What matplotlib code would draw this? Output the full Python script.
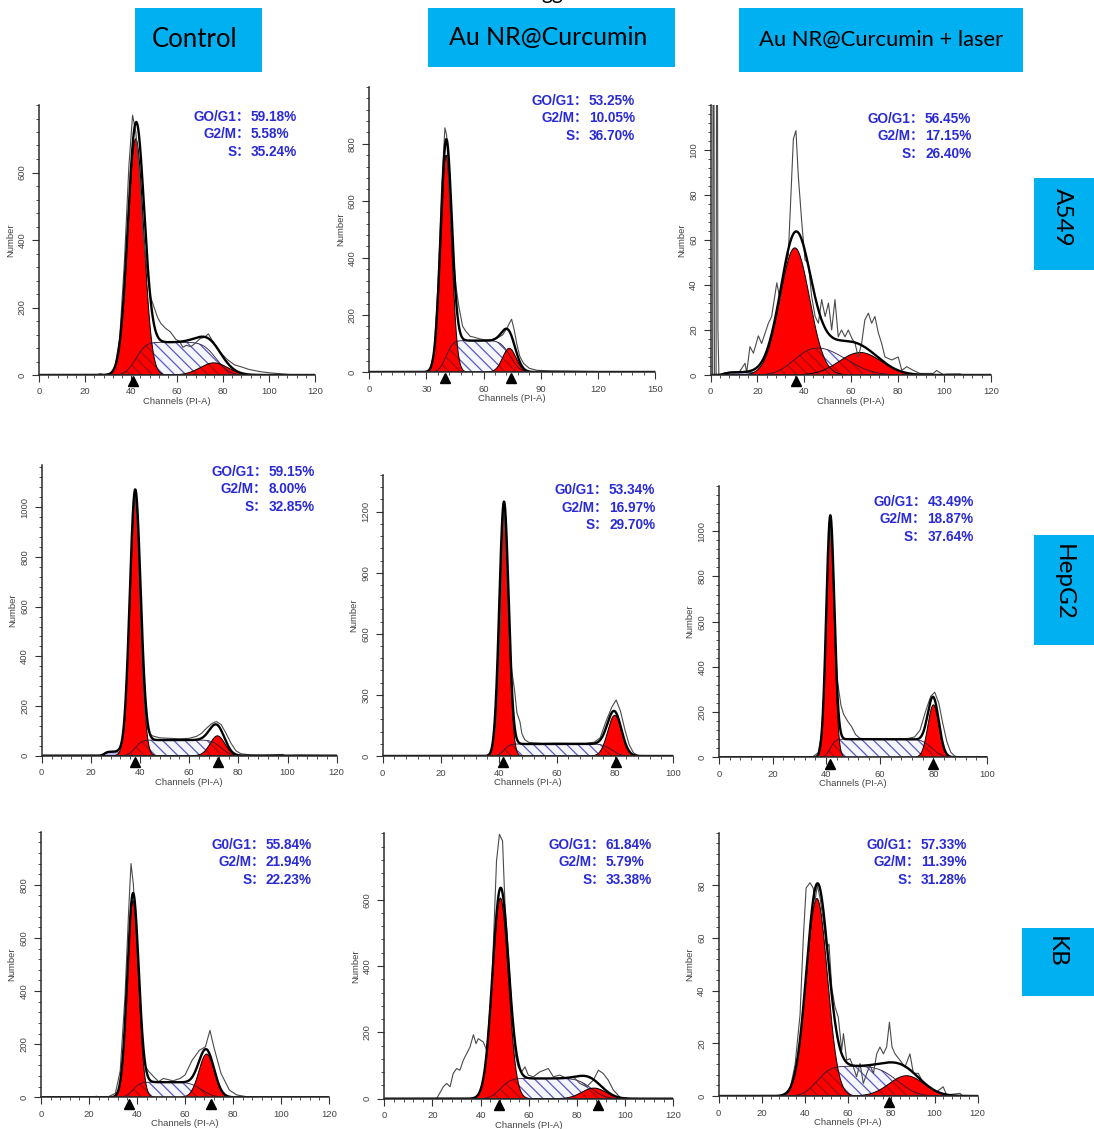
import math
import numpy as np
import matplotlib
matplotlib.use("Agg")
import matplotlib.pyplot as plt
from matplotlib.patches import Rectangle
from matplotlib.ticker import FixedLocator, AutoMinorLocator
from matplotlib.transforms import ScaledTranslation

# ---------------------------------------------------------------- labels
conditions = ["Control", "Au NR@Curcumin", "Au NR@Curcumin + laser"]
cell_lines = ["A549", "HepG2", "KB"]

# panel order: A549 (ctrl, AuNR, laser), HepG2 (...), KB (...)
g1_names = ["GO/G1", "GO/G1", "GO/G1", "GO/G1", "G0/G1", "G0/G1", "G0/G1", "GO/G1", "G0/G1"]
g1_pct = ["59.18%", "53.25%", "56.45%", "59.15%", "53.34%", "43.49%", "55.84%", "61.84%", "57.33%"]
g2m_pct = ["5.58%", "10.05%", "17.15%", "8.00%", "16.97%", "18.87%", "21.94%", "5.79%", "11.39%"]
s_pct = ["35.24%", "36.70%", "26.40%", "32.85%", "29.70%", "37.64%", "22.23%", "33.38%", "31.28%"]

# ---------------------------------------------------------------- axis ranges
x_max = [120, 150, 120, 120, 100, 100, 120, 120, 120]
x_step = [20, 30, 20, 20, 20, 20, 20, 20, 20]
y_max = [800, 1000, 120, 1170, 1380, 1200, 1000, 800, 100]
y_step = [200, 200, 20, 200, 300, 200, 200, 200, 20]
y_last_tick = [600, 800, 100, 1000, 1200, 1000, 800, 600, 80]

# ---------------------------------------------------------------- fitted model components
g1_mean = [42.0, 40.3, 36.0, 38.0, 41.8, 41.5, 38.3, 48.2, 45.5]
g1_height = [700, 760, 56.5, 1040, 1220, 1030, 740, 605, 75]
g1_sd = [3.5, 2.9, 6.3, 2.2, 1.6, 1.5, 2.35, 3.3, 4.9]

g2_mean = [76.0, 73.5, 64.0, 71.5, 80.0, 80.0, 69.0, 87.0, 87.0]
g2_height = [36, 83, 10, 80, 200, 232, 163, 32, 7.7]
g2_sd = [6.0, 3.5, 9.0, 3.0, 2.4, 2.05, 3.2, 5.0, 8.0]

s_level = [97, 110, 14, 63, 59, 80, 57, 61, 11.3]
s_end = [77.0, 74.0, 58.0, 73.0, 79.0, 79.5, 67.0, 86.0, 83.0]
s_end_sd = [4.5, 4.0, 9.0, 3.0, 2.5, 3.0, 4.0, 4.5, 7.0]

# debris component: (level, start, end, edge sd) or None
debris = [None, None, (1.2, 6.0, 28.0, 1.5), (16, 25.5, 32.5, 1.0),
          None, None, None, None, None]

# peak-position markers on the channel axis
markers = [[40.6], [39.9, 74.4], [36.5], [38.0, 71.9], [41.6, 80.5],
           [41.4, 79.7], [36.8, 70.7], [47.8, 88.6], [78.9]]

# ---------------------------------------------------------------- measured histograms
a549_ctrl_ch = [0, 25, 26.5, 28, 31, 33, 35, 37, 39, 40.6, 42, 43.5, 45, 47, 48.5, 50, 51.5, 53,
                55, 57, 59.5, 61, 62.5, 64, 66, 68, 70, 72, 73.6, 75, 77, 79, 82, 85, 88, 91,
                96, 101, 106, 111, 120]
a549_ctrl_n = [0, 0, 4, 1, 4, 25, 110, 330, 620, 770, 720, 600, 430, 300, 230, 200, 170, 152,
               138, 128, 105, 100, 82, 88, 84, 95, 108, 112, 122, 105, 85, 65, 45, 30, 24, 17,
               10, 6, 3, 0, 0]

a549_aunr_ch = [0, 30, 32, 34, 36, 38, 39.7, 40.6, 41.5, 43, 44.5, 45.5, 47, 49, 51, 53, 55,
                58, 61, 64, 66, 68, 70, 72, 73.5, 74.7, 76, 77.4, 79, 81, 84, 88, 95, 105, 115,
                125, 130, 150]
a549_aunr_n = [0, 0, 8, 70, 300, 650, 856, 830, 700, 500, 380, 300, 230, 160, 140, 125, 122,
               116, 112, 112, 118, 122, 130, 150, 170, 185, 150, 100, 55, 30, 13, 6, 4, 3, 2,
               1, 0, 0]

a549_laser_ch = [0, 0.8, 1.0, 1.4, 1.6, 2.3, 2.5, 2.9, 3.1, 3.5, 6, 9, 12, 13.3, 14.7, 15.4,
                 16.8, 18.3, 20.4, 21.8, 24.7, 26.1, 28.3, 29.7, 31.1, 33.2, 35.4, 36.5, 37.5,
                 39, 40.4, 41.8, 43.2, 44.7, 46.1, 47.5, 49, 50.4, 51.8, 53.2, 54.6, 56, 57.5,
                 58.9, 60.4, 61.8, 63.2, 64.6, 66, 67.5, 68.9, 70.3, 71.8, 73.2, 74.6, 77.5,
                 80.3, 81.8, 83.9, 86.8, 89.6, 95.3, 96.7, 99.6, 101, 106.7, 108, 120]
a549_laser_n = [0, 0, 130, 130, 0, 0, 130, 130, 20, 0, 1, 1, 1, 3, 5.2, 1,
                12.6, 9.7, 17.4, 14, 23, 26, 41, 33.5, 45, 53, 105, 108.6, 88.5,
                67.7, 51, 50, 35, 26, 23, 33.5, 26, 32, 20, 33.5, 17, 20, 17,
                20, 16.4, 14, 8, 14, 24.5, 27.5, 23, 26, 18.6, 14, 8, 6.7,
                8, 2, 3.7, 2, 0.7, 0.7, 2, 0.2, 0.4, 0.5, 0, 0]

hepg2_ctrl_ch = [0, 23, 24.5, 26, 28, 30, 32, 33.5, 35, 36.5, 38, 39, 40, 41, 42, 43, 44, 45,
                 48, 52, 56, 60, 63, 65, 67, 69, 71, 73, 75, 77, 79, 81, 85, 90, 98, 99, 105,
                 113, 114, 120]
hepg2_ctrl_n = [0, 0, 2, 12, 16, 17, 25, 100, 400, 800, 1070, 900, 600, 330, 170, 110, 90, 80,
                72, 70, 68, 70, 78, 90, 110, 128, 138, 125, 90, 50, 20, 8, 3, 2, 5, 0, 2, 1, 0,
                0]

hepg2_aunr_ch = [0, 20, 36, 37.5, 39, 40.5, 41.7, 42.5, 43.5, 44.5, 45.5, 46.3, 47.3, 48, 49,
                 50.5, 55, 60, 65, 70, 73, 75, 77, 79, 80.5, 82, 83.5, 85, 86.5, 88, 90, 100]
hepg2_aunr_n = [0, 0, 2, 15, 150, 600, 1250, 1000, 600, 420, 320, 210, 170, 110, 80, 66, 62,
                63, 62, 62, 68, 90, 170, 240, 275, 220, 130, 55, 15, 3, 0, 0]

hepg2_laser_ch = [0, 33, 35, 37, 38.5, 40, 41.3, 42.3, 43.3, 44.3, 45.5, 46.5, 48, 49.5, 51,
                  52.5, 55, 60, 65, 70, 73, 75, 77, 79, 80.5, 82, 83.5, 85, 86.5, 88, 90, 100]
hepg2_laser_n = [0, 0, 3, 20, 120, 500, 1060, 850, 500, 330, 230, 190, 160, 135, 100, 85, 80,
                 78, 80, 82, 90, 120, 200, 270, 288, 240, 150, 70, 22, 5, 0, 0]

kb_ctrl_ch = [0, 22, 23, 25, 28, 31, 33, 35, 36.5, 37.5, 38.5, 39.5, 41, 42.5, 43.5, 45, 47, 49,
              51, 55, 58, 60, 63, 66, 68.5, 70.4, 72, 75, 78.5, 81.5, 85.5, 88, 120]
kb_ctrl_n = [0, 0, 4, 0, 2, 15, 100, 380, 700, 880, 800, 620, 380, 180, 115, 96, 77, 59, 71,
             62, 71, 84, 140, 177, 190, 252, 190, 90, 27, 9, 2.5, 0, 0]

kb_aunr_ch = [0, 21.7, 24.5, 25.9, 27.3, 28.6, 30, 31.4, 32.8, 34.2, 35.6, 37, 38.1, 39, 41.1,
              42.5, 44.6, 46.6, 47.8, 49.1, 50.1, 51.5, 52.9, 54.3, 55.6, 57, 58.4, 59.8, 61.9,
              64.6, 68.1, 70.2, 72.9, 75.7, 78.5, 81.2, 84, 86.8, 88.9, 90.9, 93, 95.1, 97.9,
              100.6, 120]
kb_aunr_n = [0, 0, 36, 46, 36, 76, 91, 86, 116, 136, 156, 193, 166, 181, 171,
             146, 336, 717, 797, 777, 587, 437, 276, 136, 96, 81, 96, 71, 66,
             81, 91, 66, 71, 61, 66, 46, 36, 56, 86, 76, 56, 26, 4,
             0, 0]

kb_laser_ch = [0, 31.5, 33, 35.4, 37.7, 39.2, 40.5, 42.3, 43.8, 44.6, 45.7, 47, 48.5, 50, 51.1,
               52.4, 53.9, 55.4, 57, 57.8, 59.3, 60.8, 62.4, 63.9, 65.5, 67, 68.6, 70.1, 71.7,
               73.2, 74.7, 76.3, 77.8, 79.1, 80.3, 81.7, 84, 86.3, 88.6, 90.2, 92.5, 94.8,
               97.9, 101, 104, 105.6, 111.8, 113, 120]
kb_laser_n = [0, 0, 2.3, 12, 31, 60, 79, 81, 79, 74, 80, 75, 66.5, 56, 57.7,
              41, 33.8, 30, 17.4, 23.7, 13.6, 14.2, 11, 7.3, 12.3, 4.8, 8.6, 11.7, 8.6,
              16, 18.6, 16, 18.6, 28, 18.6, 16, 13.6, 11, 16, 8.6, 8.6, 4.8,
              3.5, 1.6, 3.5, 0.4, 1, 0, 0]

raw_channels = [a549_ctrl_ch, a549_aunr_ch, a549_laser_ch, hepg2_ctrl_ch, hepg2_aunr_ch,
                hepg2_laser_ch, kb_ctrl_ch, kb_aunr_ch, kb_laser_ch]
raw_counts = [a549_ctrl_n, a549_aunr_n, a549_laser_n, hepg2_ctrl_n, hepg2_aunr_n,
              hepg2_laser_n, kb_ctrl_n, kb_aunr_n, kb_laser_n]

# ---------------------------------------------------------------- page layout (pixels)
W, H, DPI = 1094, 1129, 100
ax_left = [39.3, 369.3, 710.7, 41.7, 382.7, 719.0, 41.0, 384.3, 718.7]
ax_right = [315.0, 655.0, 991.0, 336.7, 672.7, 987.0, 329.0, 673.3, 977.7]
ax_zero = [375.0, 372.0, 375.0, 755.7, 756.0, 757.3, 1097.3, 1098.7, 1096.0]
ax_top = [105.0, 86.7, 105.0, 465.0, 475.0, 486.0, 831.7, 833.3, 832.7]
txt_split = [250.0, 588.0, 924.0, 267.5, 608.0, 926.5, 265.0, 605.0, 920.0]
txt_first = [116.7, 100.7, 119.0, 471.7, 490.0, 501.7, 845.0, 845.0, 845.0]

RED = "#ff0000"
HATCH_BLUE = "#5a5ac4"
HATCH_RED = "#a01010"
TEXT_BLUE = "#2a2ad6"
BOX_BLUE = "#00b0f0"
AXIS_FONT = ["Liberation Sans", "DejaVu Sans"]
PCT_FONT = ["Liberation Sans", "Noto Sans CJK SC"]
HEAD_FONT = ["Lato", "DejaVu Sans"]
HATCH = "\\" * 3

plt.rcParams["hatch.linewidth"] = 0.9

_erf = np.vectorize(math.erf)


def gaussian(x, mean, height, sd):
    return height * np.exp(-0.5 * ((x - mean) / sd) ** 2)


def plateau(x, start, start_sd, end, end_sd, level):
    rise = 0.5 * (1.0 + _erf((x - start) / (math.sqrt(2.0) * start_sd)))
    fall = 0.5 * (1.0 - _erf((x - end) / (math.sqrt(2.0) * end_sd)))
    return level * rise * fall


fig = plt.figure(figsize=(W / DPI, H / DPI), dpi=DPI)
fig.patch.set_facecolor("white")

for i in range(9):
    ax = fig.add_axes([ax_left[i] / W, 1 - ax_zero[i] / H,
                       (ax_right[i] - ax_left[i]) / W, (ax_zero[i] - ax_top[i]) / H])
    x = np.linspace(0, x_max[i], 1500)
    g1 = gaussian(x, g1_mean[i], g1_height[i], g1_sd[i])
    g2 = gaussian(x, g2_mean[i], g2_height[i], g2_sd[i])
    s = plateau(x, g1_mean[i], g1_sd[i], s_end[i], s_end_sd[i], s_level[i])
    fit = g1 + g2 + s
    if debris[i] is not None:
        lvl, d0, d1, dsd = debris[i]
        d = plateau(x, d0, dsd, d1, dsd, lvl)
        fit = fit + d
        ax.fill_between(x, 0, d, facecolor="#b4b4e8", edgecolor="none", zorder=1)
        ax.plot(x, d, color="#303050", lw=0.6, zorder=1.1)

    # S phase: hatched on white
    ax.fill_between(x, 0, s, facecolor="#f6f6fd", edgecolor=HATCH_BLUE, hatch=HATCH,
                    linewidth=0, zorder=1)
    # G1 and G2 peaks
    ax.fill_between(x, 0, g1, facecolor=RED, edgecolor="none", zorder=2)
    ax.fill_between(x, 0, g2, facecolor=RED, edgecolor="none", zorder=2)
    # S phase beneath the peaks
    for g in (g1, g2):
        ax.fill_between(x, 0, np.minimum(s, g), facecolor="none", edgecolor=HATCH_RED,
                        hatch=HATCH, linewidth=0, zorder=2.5)
    ax.plot(x, s, color="#2a1a3a", lw=0.6, zorder=3)
    ax.plot(x, g1, color="black", lw=0.7, zorder=3)
    ax.plot(x, g2, color="black", lw=0.7, zorder=3)

    ax.plot(raw_channels[i], raw_counts[i], color="#4a4a4a", lw=0.8, zorder=4)
    ax.plot(x, fit, color="black", lw=1.7, zorder=5)

    off = ScaledTranslation(0, -4.5 / 72, fig.dpi_scale_trans)
    for m in markers[i]:
        ax.plot([m], [0], marker="^", ms=6.5, color="black", clip_on=False,
                transform=ax.transData + off, zorder=6)

    ax.set_xlim(0, x_max[i])
    ax.set_ylim(0, y_max[i])
    ax.xaxis.set_major_locator(FixedLocator(np.arange(0, x_max[i] + 1, x_step[i])))
    ax.yaxis.set_major_locator(FixedLocator(np.arange(0, y_last_tick[i] + 1, y_step[i])))
    ax.xaxis.set_minor_locator(AutoMinorLocator(5))
    ax.yaxis.set_minor_locator(AutoMinorLocator(5))
    for side in ("top", "right"):
        ax.spines[side].set_visible(False)
    for side in ("left", "bottom"):
        ax.spines[side].set_linewidth(1.1)
        ax.spines[side].set_color("#2b2b2b")
        ax.spines[side].set_zorder(7)
    ax.tick_params(which="major", length=5, width=0.8, color="#333333", pad=4,
                   labelsize=6.8, labelcolor="#444444")
    ax.tick_params(which="minor", length=2.5, width=0.6, color="#333333")
    ax.tick_params(axis="y", labelrotation=90)
    for lab in ax.get_yticklabels():
        lab.set_va("center")
    for lab in ax.get_xticklabels() + ax.get_yticklabels():
        lab.set_family(AXIS_FONT)
    ax.set_xlabel("Channels (PI-A)", fontsize=6.8, color="#444444", family=AXIS_FONT,
                  labelpad=0.5)
    ax.set_ylabel("Number", fontsize=6.8, color="#444444", family=AXIS_FONT, labelpad=2)
    ax.patch.set_alpha(0)

    # phase percentages, aligned on the colon
    names = [g1_names[i] + "：", "G2/M：", "S："]
    vals = [g1_pct[i], g2m_pct[i], s_pct[i]]
    for k in range(3):
        yy = 1 - (txt_first[i] + 17.5 * k) / H
        fig.text(txt_split[i] / W, yy, names[k], ha="right", va="center", fontsize=9.8,
                 fontweight="bold", color=TEXT_BLUE, family=PCT_FONT)
        fig.text(txt_split[i] / W + 1.0 / W, yy, vals[k], ha="left", va="center",
                 fontsize=9.8, fontweight="bold", color=TEXT_BLUE, family=PCT_FONT)

# ---------------------------------------------------------------- headings
col_boxes = [(135, 8, 262, 72), (428, 8, 675, 67), (739, 8, 1023, 72)]
col_sizes = [18.5, 18, 15.8]
col_shift = [-4, -3, 0]
for (x0, y0, x1, y1), label, fs, dx in zip(col_boxes, conditions, col_sizes, col_shift):
    fig.add_artist(Rectangle((x0 / W, 1 - y1 / H), (x1 - x0) / W, (y1 - y0) / H,
                             transform=fig.transFigure, facecolor=BOX_BLUE,
                             edgecolor="none"))
    fig.text(((x0 + x1) / 2 + dx) / W, 1 - ((y0 + y1) / 2 - 0.5) / H, label,
             ha="center", va="center", fontsize=fs, family=HEAD_FONT, color="black")

row_boxes = [(1034, 178, 1094, 270), (1034, 535, 1094, 645), (1022, 928, 1094, 996)]
row_text_y = [217, 582, 952]
row_text_x = [1062, 1063, 1056]
for (x0, y0, x1, y1), label, tx, ty in zip(row_boxes, cell_lines, row_text_x, row_text_y):
    fig.add_artist(Rectangle((x0 / W, 1 - y1 / H), (x1 - x0) / W, (y1 - y0) / H,
                             transform=fig.transFigure, facecolor=BOX_BLUE,
                             edgecolor="none"))
    fig.text(tx / W, 1 - ty / H, label, ha="center", va="center", rotation=-90,
             fontsize=17.5, family=HEAD_FONT, color="black")

fig.text(552 / W, 1 + 1 / H, "gg", ha="center", va="baseline", fontsize=15,
         family=HEAD_FONT, color="black")

fig.savefig("out.png", dpi=DPI, facecolor="white")
